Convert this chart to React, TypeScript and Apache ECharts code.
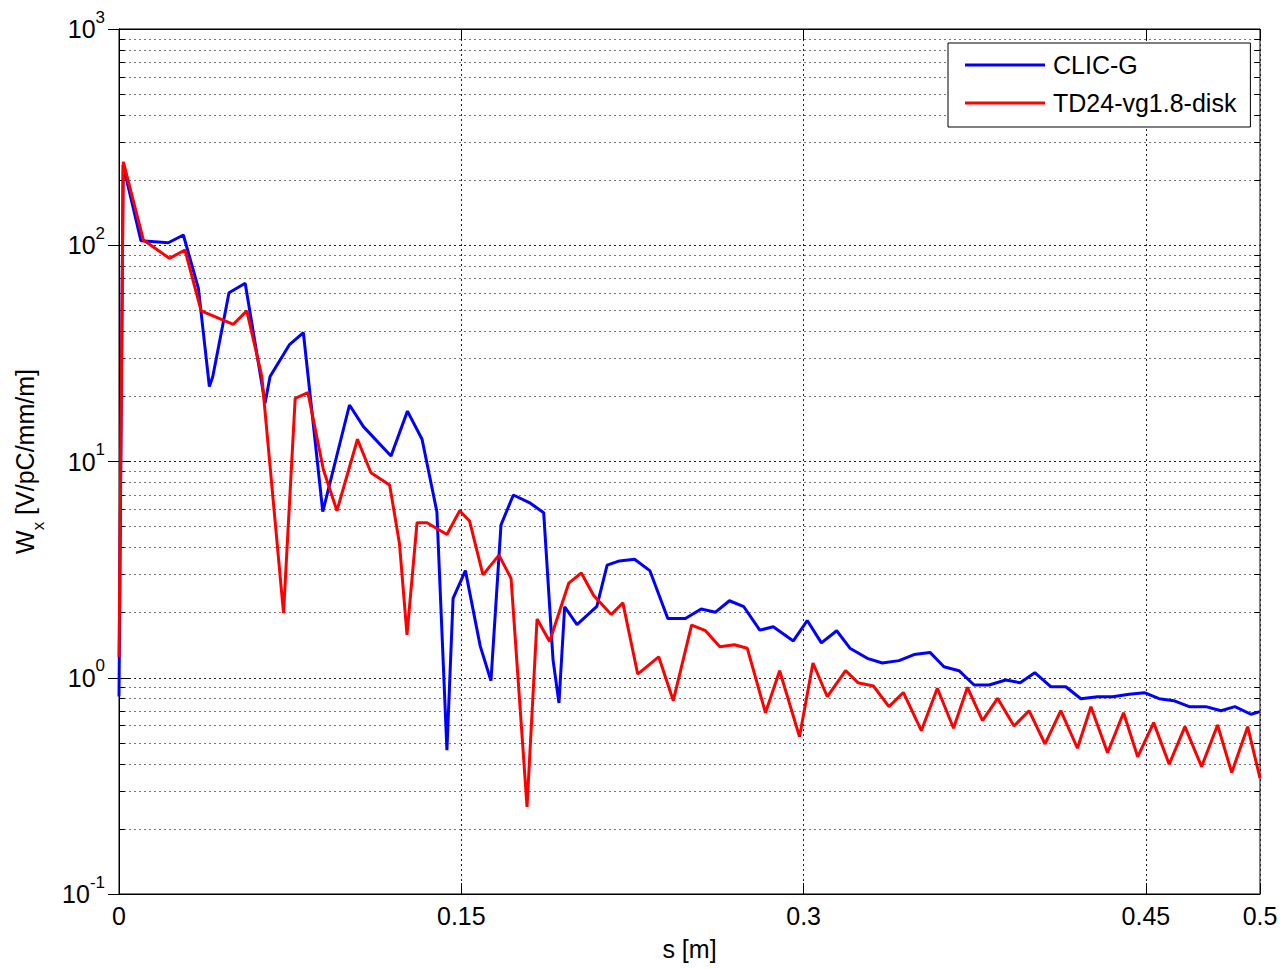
import React, { useEffect, useRef } from 'react';
import * as echarts from 'echarts';

// s [m] and W_x [V/pC/mm/m]
const sBlue = [0, 0.0018, 0.0096, 0.0216, 0.0282, 0.0348, 0.0396, 0.0411, 0.0482, 0.0553, 0.064, 0.0662, 0.0746, 0.0808, 0.0893, 0.101, 0.1071, 0.1192, 0.1264, 0.1328, 0.1393, 0.1437, 0.1464, 0.1518, 0.1583, 0.163, 0.1674, 0.1728, 0.1798, 0.1861, 0.1902, 0.1928, 0.1953, 0.2007, 0.2094, 0.2139, 0.2193, 0.2259, 0.2326, 0.2405, 0.2482, 0.2551, 0.2614, 0.2675, 0.2738, 0.2808, 0.2867, 0.2955, 0.3016, 0.3078, 0.3145, 0.3203, 0.3279, 0.3345, 0.3418, 0.3484, 0.3554, 0.3615, 0.3681, 0.3747, 0.3813, 0.3886, 0.3949, 0.4013, 0.4083, 0.4149, 0.4215, 0.4288, 0.4354, 0.4427, 0.4493, 0.4558, 0.4622, 0.469, 0.4763, 0.4829, 0.489, 0.496, 0.5];
const wBlue = [0.82, 235, 105, 102.7, 111.5, 63.2, 22.2, 24.7, 60.3, 66.7, 18.6, 24.7, 34.6, 39.4, 5.86, 18.25, 14.5, 10.6, 17.1, 12.67, 5.86, 0.463, 2.33, 3.13, 1.4, 0.969, 5.09, 7.0, 6.46, 5.8, 1.21, 0.764, 2.13, 1.76, 2.14, 3.32, 3.47, 3.53, 3.13, 1.88, 1.88, 2.08, 2.01, 2.27, 2.13, 1.66, 1.72, 1.48, 1.84, 1.45, 1.65, 1.37, 1.23, 1.17, 1.2, 1.28, 1.31, 1.125, 1.078, 0.926, 0.926, 0.976, 0.949, 1.055, 0.909, 0.909, 0.8, 0.817, 0.817, 0.838, 0.853, 0.8, 0.783, 0.735, 0.735, 0.704, 0.735, 0.678, 0.697];

const sRed = [0, 0.0019, 0.0107, 0.0221, 0.0289, 0.036, 0.0501, 0.056, 0.0626, 0.0721, 0.0772, 0.0828, 0.0896, 0.0955, 0.1045, 0.1104, 0.1186, 0.1229, 0.1262, 0.1306, 0.135, 0.1437, 0.1493, 0.1536, 0.1595, 0.1665, 0.1718, 0.1788, 0.1832, 0.1887, 0.1971, 0.2026, 0.208, 0.2157, 0.2208, 0.2273, 0.2365, 0.2429, 0.2509, 0.257, 0.2633, 0.2697, 0.2753, 0.2833, 0.2895, 0.2982, 0.3041, 0.3104, 0.3184, 0.3238, 0.3306, 0.3374, 0.3437, 0.3516, 0.3586, 0.3657, 0.3718, 0.3784, 0.385, 0.3922, 0.3988, 0.4058, 0.4127, 0.42, 0.4259, 0.4332, 0.4402, 0.4464, 0.4534, 0.4602, 0.4671, 0.4744, 0.4814, 0.4876, 0.4946, 0.5];
const wRed = [1.25, 243, 105.7, 87.0, 95.1, 49.7, 43.1, 49.7, 24.7, 1.99, 19.6, 20.8, 9.13, 5.92, 12.67, 8.87, 7.79, 4.18, 1.58, 5.21, 5.21, 4.6, 5.92, 5.31, 2.99, 3.69, 2.88, 0.253, 1.87, 1.47, 2.74, 3.05, 2.4, 1.96, 2.22, 1.04, 1.25, 0.783, 1.75, 1.65, 1.39, 1.42, 1.37, 0.689, 1.078, 0.534, 1.17, 0.817, 1.078, 0.949, 0.916, 0.735, 0.855, 0.569, 0.894, 0.584, 0.903, 0.633, 0.803, 0.598, 0.704, 0.494, 0.704, 0.472, 0.735, 0.45, 0.689, 0.431, 0.62, 0.398, 0.594, 0.388, 0.605, 0.364, 0.594, 0.343];

const seriesNames = ['CLIC-G', 'TD24-vg1.8-disk'];
const xMin = 0;
const xMax = 0.5;
const xInterval = 0.15;
const yMin = 0.1;
const yMax = 1000;
const minorDecades = [0.1, 1, 10, 100];
const minorSteps = [2, 3, 4, 5, 6, 7, 8, 9];

const FONT = '"Liberation Sans", Arial, Helvetica, sans-serif';

export default function App() {
  const ref = useRef<HTMLDivElement>(null);
  useEffect(() => {
    const chart = echarts.init(ref.current as HTMLDivElement, null, { renderer: 'svg' });
    const minorVals = minorDecades.flatMap((d) => minorSteps.map((m) => +(d * m).toPrecision(3)));
    const tickW = 0.0025;
    const minorLines: any[] = minorVals.map((v) => ({ yAxis: v }));
    const minorTicks: any[] = [];
    minorVals.forEach((v) => {
      minorTicks.push([
        { coord: [xMin, v], lineStyle: { type: 'solid', color: '#000', width: 1 } },
        { coord: [xMin + tickW, v] },
      ]);
      minorTicks.push([
        { coord: [xMax - tickW, v], lineStyle: { type: 'solid', color: '#000', width: 1 } },
        { coord: [xMax, v] },
      ]);
    });

    const axisLine = { show: true, lineStyle: { color: '#000', width: 1 } };
    const majorTick = { show: true, inside: true, length: 11, lineStyle: { color: '#000', width: 1 } };
    const gridStyle = { show: true, lineStyle: { color: '#222', width: 1, type: [2, 3] as any } };

    chart.setOption({
      animation: false,
      backgroundColor: '#fff',
      grid: {
        left: 119,
        top: 29,
        right: 25,
        bottom: 75,
        show: true,
        borderColor: '#000',
        borderWidth: 1,
        backgroundColor: 'transparent',
      },
      legend: {
        data: seriesNames,
        orient: 'vertical',
        left: 948,
        top: 43,
        icon: 'rect',
        itemWidth: 80,
        itemHeight: 3,
        itemGap: 8,
        padding: [7, 14, 9, 17],
        backgroundColor: '#fff',
        borderColor: '#000',
        borderWidth: 1,
        borderRadius: 0,
        z: 10,
        selectedMode: false,
        textStyle: { fontSize: 25, fontFamily: FONT, color: '#000', lineHeight: 30, padding: [0, 0, 0, 3] },
      },
      xAxis: [
        {
          type: 'value',
          min: xMin,
          max: xMax,
          interval: xInterval,
          position: 'bottom',
          axisLine,
          axisTick: majorTick,
          axisLabel: {
            fontSize: 25,
            fontFamily: FONT,
            color: '#000',
            margin: 9,
            showMinLabel: true,
            showMaxLabel: true,
            formatter: (v: number) => String(+v.toFixed(2)),
          },
          splitLine: gridStyle,
          name: 's [m]',
          nameLocation: 'middle',
          nameGap: 42,
          nameTextStyle: { fontSize: 25, fontFamily: FONT, color: '#000' },
        },
        {
          type: 'value',
          min: xMin,
          max: xMax,
          interval: xInterval,
          position: 'top',
          axisLine,
          axisTick: majorTick,
          axisLabel: { show: false },
          splitLine: { show: false },
        },
      ],
      yAxis: [
        {
          type: 'log',
          logBase: 10,
          min: yMin,
          max: yMax,
          position: 'left',
          axisLine,
          axisTick: majorTick,
          axisLabel: {
            margin: 14,
            padding: [0, 0, 16, 0],
            showMinLabel: true,
            showMaxLabel: true,
            formatter: (v: number) => `{b|10}{e|${Math.round(Math.log10(v))}}`,
            rich: {
              b: { fontSize: 25, fontFamily: FONT, color: '#000', lineHeight: 25, padding: [8, 0, 10, 0], verticalAlign: 'top' },
              e: { fontSize: 17, fontFamily: FONT, color: '#000', lineHeight: 17, verticalAlign: 'top' },
            },
          },
          splitLine: gridStyle,
          name: '{a|W}{s|x}{a| [V/pC/mm/m]}',
          nameLocation: 'middle',
          nameRotate: 90,
          nameGap: 82,
          nameTextStyle: {
            rich: {
              a: { fontSize: 25, fontFamily: FONT, color: '#000', lineHeight: 25, verticalAlign: 'top' },
              s: { fontSize: 17, fontFamily: FONT, color: '#000', lineHeight: 17, verticalAlign: 'top', padding: [18, 0, 0, 0] },
            },
          },
        },
        {
          type: 'log',
          logBase: 10,
          min: yMin,
          max: yMax,
          position: 'right',
          axisLine,
          axisTick: majorTick,
          axisLabel: { show: false },
          splitLine: { show: false },
        },
      ],
      series: [
        {
          type: 'line',
          name: seriesNames[0],
          xAxisIndex: 0,
          yAxisIndex: 0,
          data: sBlue.map((s, i) => [s, wBlue[i]]),
          showSymbol: false,
          symbol: 'none',
          z: 3,
          lineStyle: { color: '#0000ff', width: 3 },
          itemStyle: { color: '#0000ff' },
          markLine: {
            silent: true,
            z: 1,
            symbol: ['none', 'none'],
            label: { show: false },
            emphasis: { disabled: true },
            lineStyle: { color: '#777', width: 1, type: [2, 3] },
            data: [...minorLines, ...minorTicks],
          },
        },
        {
          type: 'line',
          name: seriesNames[1],
          xAxisIndex: 0,
          yAxisIndex: 0,
          data: sRed.map((s, i) => [s, wRed[i]]),
          showSymbol: false,
          symbol: 'none',
          z: 4,
          lineStyle: { color: '#ff0000', width: 3 },
          itemStyle: { color: '#ff0000' },
        },
      ],
    });
    return () => chart.dispose();
  }, []);
  return <div ref={ref} style={{ position: 'absolute', left: 0, top: 0, width: 1285, height: 969 }} />;
}
